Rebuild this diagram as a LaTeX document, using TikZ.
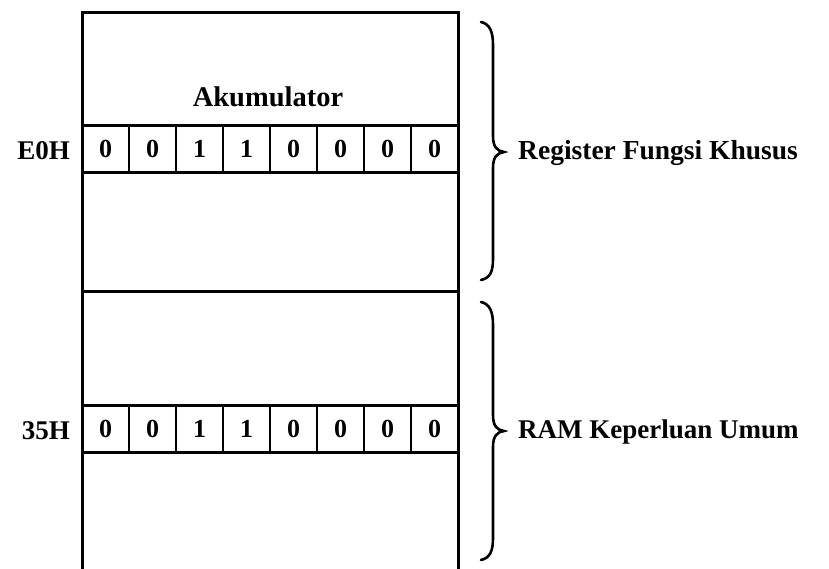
\documentclass[tikz,border=0pt]{standalone}
\usepackage{fontspec}
\setmainfont{Liberation Serif}
\begin{document}
\begin{tikzpicture}[x=1pt,y=-1pt,
  wall/.style={line width=3pt},
  cell/.style={draw,line width=2.6pt,minimum width=47pt,minimum height=47pt,
    inner sep=0pt,font=\fontsize{26}{26}\selectfont\bfseries},
  lbl/.style={font=\fontsize{27}{27}\selectfont\bfseries,inner sep=0pt},
  side/.style={lbl,anchor=west},
  brace/.style={line width=2.6pt,line cap=round}]
\useasboundingbox (0,0) rectangle (829,568);

% outer memory column, open at the bottom
\coordinate (tl) at (82,12);
\coordinate (tr) at (458,12);
\coordinate (bl) at (82,570);
\coordinate (br) at (458,570);
\coordinate (dl) at (82,291);
\coordinate (dr) at (458,291);
\draw[wall] (bl) -- (tl) -- (tr) -- (br);
\draw[wall] (dl) -- (dr);

% accumulator label
\node[lbl,font=\fontsize{28.5}{28.5}\selectfont\bfseries] (acc) at (268,97) {Akumulator};

% register rows of eight bits
\foreach \b [count=\i] in {0,0,1,1,0,0,0,0} {
  \node[cell] (e\i) at ({82+47*(\i-0.5)},149) {\b};
  \node[cell] (r\i) at ({82+47*(\i-0.5)},429) {\b};
}
\node[lbl,anchor=east] (ea) at (70,151) {E0H};
\node[lbl,anchor=east] (ra) at (70,431) {35H};

% braces
\coordinate (ua) at (481,22);
\coordinate (ut) at (504,152);
\coordinate (ub) at (481,280);
\draw[brace] (ua) .. controls (490,24) and (493,32) .. (493,45) -- (493,136)
  .. controls (493,147) and (497,151) .. (ut)
  .. controls (497,153) and (493,157) .. (493,168) -- (493,259)
  .. controls (493,272) and (490,278) .. (ub);
\coordinate (la) at (481,302);
\coordinate (lt) at (504,431);
\coordinate (lb) at (481,560);
\draw[brace] (la) .. controls (490,304) and (493,312) .. (493,325) -- (493,415)
  .. controls (493,426) and (497,430) .. (lt)
  .. controls (497,432) and (493,436) .. (493,447) -- (493,538)
  .. controls (493,551) and (490,558) .. (lb);

\node[side,font=\fontsize{27.5}{27.5}\selectfont\bfseries] (sfr) at (518,153) {Register Fungsi Khusus};
\node[side] (ram) at (518,432) {RAM Keperluan Umum};
\end{tikzpicture}
\end{document}
